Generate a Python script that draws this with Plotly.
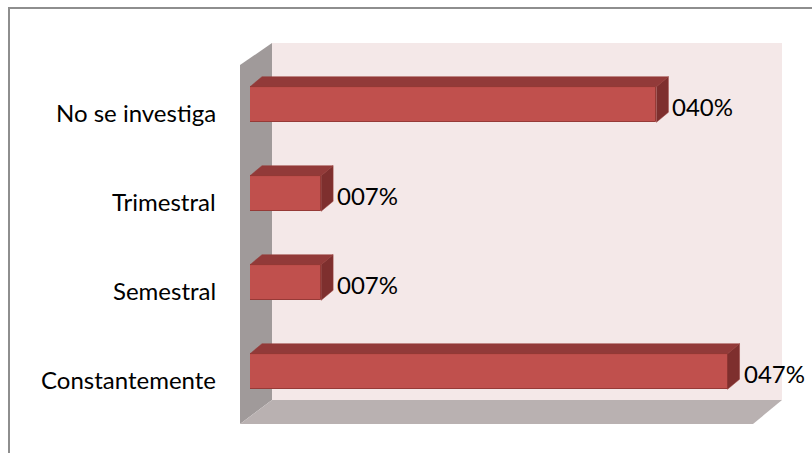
import plotly.graph_objects as go

# Categories (bottom to top) and their percentages
categories = ["Constantemente", "Semestral", "Trimestral", "No se investiga"]
values = [47, 7, 7, 40]
value_labels = ["047%", "007%", "007%", "040%"]

W, H = 812, 453
M_L, M_R, M_T, M_B = 250, 54, 60, 37
PW, PH = W - M_L - M_R, H - M_T - M_B
X_MAX = 50
Y_MIN, Y_MAX = -0.5, 3.5

FRONT = "#C0504D"
EDGE = "#963A37"
TOP = "#923A39"
SIDE = "#7E2F2E"
WALL = "#F4E8E8"
SIDEWALL = "#A09A9A"
FLOOR = "#B9B1B1"
FONT = "Lato"
FONT_SIZE = 24

def px(xp):
    return (xp - M_L) / PW

def py(yp):
    return (H - M_B - yp) / PH

# depth of bars in data units
DX = 12 * X_MAX / PW
DY = 10 * (Y_MAX - Y_MIN) / PH
BAR_W = 0.40

fig = go.Figure()
fig.add_trace(go.Bar(
    y=list(range(len(categories))), x=values, orientation="h",
    width=BAR_W, marker=dict(color=FRONT, line=dict(color=EDGE, width=1)),
    hoverinfo="skip", showlegend=False,
))

shapes = []

def poly(points, color):
    path = "M " + " L ".join(f"{px(a)},{py(b)}" for a, b in points) + " Z"
    return dict(type="path", xref="paper", yref="paper", path=path,
                fillcolor=color, layer="below", line=dict(width=0))

# chart border
shapes.append(dict(type="rect", xref="paper", yref="paper",
                   x0=px(9), x1=px(830), y0=py(8), y1=py(470),
                   line=dict(color="#8E8E8E", width=2), layer="below"))
# back wall, side wall, floor
shapes.append(poly([(272, 43), (782, 43), (782, 400), (272, 400)], WALL))
shapes.append(poly([(240, 65), (272, 43), (272, 400), (240, 424)], SIDEWALL))
shapes.append(poly([(240, 424), (272, 400), (782, 400), (753, 424)], FLOOR))

# top and side faces of each bar
for i, v in enumerate(values):
    yt = i + BAR_W / 2
    yb = i - BAR_W / 2
    shapes.append(dict(type="path", xref="x", yref="y", layer="above",
                       path=f"M 0,{yt} L {DX},{yt+DY} L {v+DX},{yt+DY} L {v},{yt} Z",
                       fillcolor=TOP, line=dict(color=EDGE, width=0.5)))
    shapes.append(dict(type="path", xref="x", yref="y", layer="above",
                       path=f"M {v},{yt} L {v+DX},{yt+DY} L {v+DX},{yb+DY} L {v},{yb} Z",
                       fillcolor=SIDE, line=dict(color=EDGE, width=0.5)))

annotations = []
for i, c in enumerate(categories):
    annotations.append(dict(xref="paper", yref="y", x=px(218), y=i, yshift=-8,
                            text=c, showarrow=False, xanchor="right",
                            font=dict(family=FONT, size=FONT_SIZE, color="#000000")))
for i, (v, t) in enumerate(zip(values, value_labels)):
    annotations.append(dict(xref="x", yref="y", x=v, y=i, xshift=14, yshift=-2,
                            text=t, showarrow=False, xanchor="left",
                            font=dict(family=FONT, size=FONT_SIZE, color="#000000")))

fig.update_layout(
    width=W, height=H,
    margin=dict(l=M_L, r=M_R, t=M_T, b=M_B),
    paper_bgcolor="white", plot_bgcolor="rgba(0,0,0,0)",
    xaxis=dict(range=[0, X_MAX], visible=False, fixedrange=True),
    yaxis=dict(range=[Y_MIN, Y_MAX], visible=False, fixedrange=True),
    shapes=shapes, annotations=annotations, bargap=0,
)

fig.write_html("out.html")
